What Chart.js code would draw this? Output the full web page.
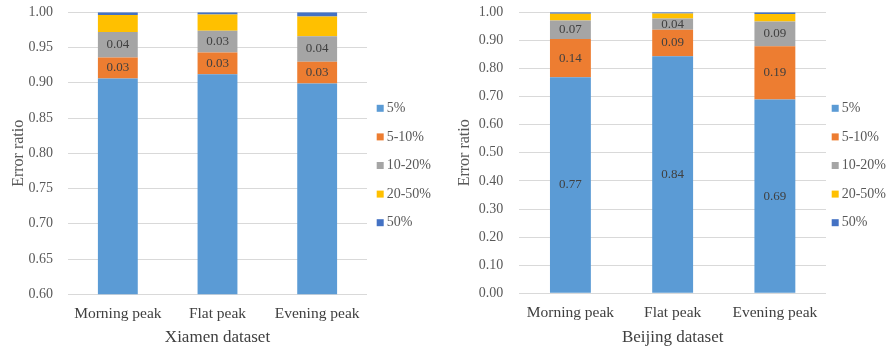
<!DOCTYPE html>
<html>
<head>
<meta charset="utf-8">
<script src="https://cdn.jsdelivr.net/npm/chart.js@4/dist/chart.umd.min.js"></script>
<style>
  html, body { margin: 0; padding: 0; background: #ffffff; }
  .row { display: flex; width: 892px; height: 349px; }
  canvas { display: block; }
</style>
</head>
<body>
<div class="row">
  <canvas id="xiamen" width="446" height="349"></canvas>
  <canvas id="beijing" width="446" height="349"></canvas>
</div>
<script>
// Peak periods on the x axis
const categories = ['Morning peak', 'Flat peak', 'Evening peak'];
// Error bands, bottom to top of each stack
const seriesNames = ['5%', '5-10%', '10-20%', '20-50%', '50%'];
const seriesColors = ['#5b9bd5', '#ed7d31', '#a5a5a5', '#ffc000', '#4472c4'];

// Xiamen dataset: share of predictions in each error band
const xiamen5 = [0.906, 0.912, 0.899];
const xiamen5to10 = [0.030, 0.031, 0.031];
const xiamen10to20 = [0.036, 0.031, 0.036];
const xiamen20to50 = [0.024, 0.023, 0.028];
const xiamen50 = [0.004, 0.003, 0.006];

// Beijing dataset: share of predictions in each error band
const beijing5 = [0.769, 0.844, 0.690];
const beijing5to10 = [0.136, 0.094, 0.189];
const beijing10to20 = [0.066, 0.040, 0.088];
const beijing20to50 = [0.024, 0.018, 0.027];
const beijing50 = [0.005, 0.004, 0.006];

// Y axis ranges
const xiamenAxis = { min: 0.60, max: 1.00, step: 0.05 };
const beijingAxis = { min: 0.00, max: 1.00, step: 0.10 };

const SERIF = "'Liberation Serif', 'Times New Roman', serif";
const LABELLED_SERIES = 3; // only the three lowest bands carry value labels

// Value labels centred inside each labelled segment
const segmentLabels = {
  id: 'segmentLabels',
  afterDatasetsDraw(chart) {
    const ctx = chart.ctx;
    ctx.save();
    ctx.font = '13px ' + SERIF;
    ctx.fillStyle = '#404040';
    ctx.textAlign = 'center';
    ctx.textBaseline = 'middle';
    chart.data.datasets.forEach((ds, di) => {
      if (di >= LABELLED_SERIES) return;
      const meta = chart.getDatasetMeta(di);
      meta.data.forEach((bar, i) => {
        const y = (bar.y + bar.base) / 2;
        ctx.fillText(ds.data[i].toFixed(2), bar.x, y);
      });
    });
    ctx.restore();
  }
};

// Vertical legend list to the right of the plot
const sideLegend = {
  id: 'sideLegend',
  afterDraw(chart, args, opts) {
    const ctx = chart.ctx;
    ctx.save();
    ctx.font = '14px ' + SERIF;
    ctx.textBaseline = 'middle';
    ctx.textAlign = 'left';
    chart.data.datasets.forEach((ds, i) => {
      const cy = opts.top + i * opts.spacing;
      ctx.fillStyle = ds.backgroundColor;
      ctx.fillRect(opts.x, cy - 3.5, 7, 7);
      ctx.fillStyle = '#595959';
      ctx.fillText(ds.label, opts.x + 10, cy);
    });
    ctx.restore();
  }
};

function buildChart(canvasId, series, axis, axisTitle, geom) {
  const datasets = series.map((values, i) => ({
    label: seriesNames[i],
    data: values,
    backgroundColor: seriesColors[i],
    borderWidth: 0,
    categoryPercentage: 1.0,
    barPercentage: 0.4
  }));
  return new Chart(document.getElementById(canvasId), {
    type: 'bar',
    data: { labels: categories, datasets },
    plugins: [segmentLabels, sideLegend],
    options: {
      responsive: false,
      animation: false,
      layout: { padding: { top: geom.padTop, right: geom.padRight, bottom: 0, left: 0 } },
      plugins: {
        legend: { display: false },
        tooltip: { enabled: false },
        sideLegend: { x: geom.legendX, top: 108.3, spacing: 28.6 }
      },
      scales: {
        x: {
          stacked: true,
          grid: { display: false, drawTicks: false },
          border: { display: false },
          ticks: { color: '#404040', font: { family: SERIF, size: 15.5 }, padding: 10, maxRotation: 0 },
          title: { display: true, text: axisTitle, color: '#404040', font: { family: SERIF, size: 17 }, padding: { top: 0, bottom: 1.5 } },
          afterFit(scale) { scale.height = geom.xHeight; }
        },
        y: {
          stacked: true,
          min: axis.min,
          max: axis.max,
          grid: { color: '#d9d9d9', lineWidth: 1, drawTicks: false },
          border: { display: false },
          ticks: {
            stepSize: axis.step,
            color: '#595959',
            font: { family: SERIF, size: 14 },
            padding: geom.tickPad,
            callback: v => Number(v).toFixed(2)
          },
          title: { display: true, text: 'Error ratio', color: '#595959', font: { family: SERIF, size: 16 }, padding: { top: 9.4, bottom: 0 } },
          afterFit(scale) {
            // fixed axis width; the top margin comes from the layout padding alone
            scale.width = geom.yWidth;
            scale.paddingTop = 0;
            scale.paddingBottom = 0;
          }
        }
      }
    }
  });
}

buildChart('xiamen',
  [xiamen5, xiamen5to10, xiamen10to20, xiamen20to50, xiamen50],
  xiamenAxis, 'Xiamen dataset',
  { padTop: 12.3, padRight: 79, yWidth: 68, xHeight: 54.7, tickPad: 15, legendX: 376.7 });

buildChart('beijing',
  [beijing5, beijing5to10, beijing10to20, beijing20to50, beijing50],
  beijingAxis, 'Beijing dataset',
  { padTop: 12.3, padRight: 66, yWidth: 73.3, xHeight: 55.7, tickPad: 16, legendX: 385.7 });
</script>
</body>
</html>
